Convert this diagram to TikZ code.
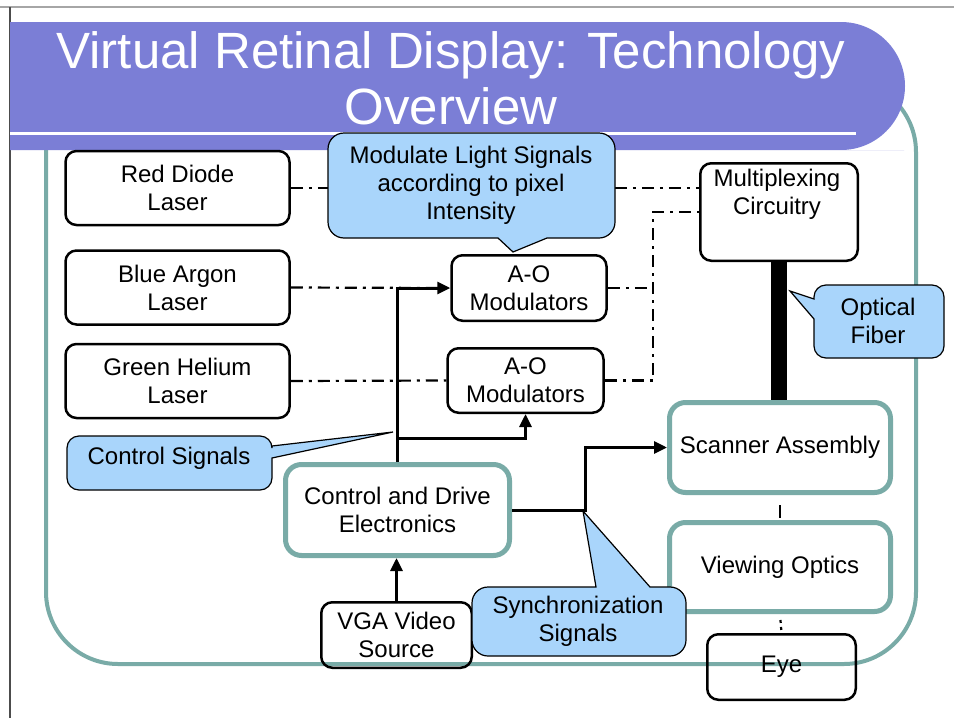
\documentclass[tikz,border=0pt]{standalone}
\usepackage{fontspec}
\setmainfont{Liberation Sans}
\usetikzlibrary{arrows.meta}
\definecolor{bannerblue}{HTML}{7B7ED6}
\definecolor{frameteal}{HTML}{79ABA7}
\definecolor{calloutblue}{HTML}{A9D5FB}

\begin{document}
\begin{tikzpicture}[x=1pt,y=-1pt,
  lbl/.style={font=\fontsize{24}{28}\selectfont, align=center, inner sep=0pt},
  blackbox/.style={lbl, draw=black, line width=2.5pt, rounded corners=11pt},
  tealbox/.style={lbl, draw=frameteal, line width=5pt, rounded corners=16pt, fill=white},
  beam/.style={line width=2.2pt, dash pattern=on 12pt off 6pt on 3pt off 6pt},
  signal/.style={line width=3pt, -{Triangle[length=13pt,width=12pt]}},
  callout/.style={draw=black, line width=1.2pt, fill=calloutblue},
]
\useasboundingbox (0,0) rectangle (954,718);
\fill[white] (0,0) rectangle (954,718);

% slide edges
\draw[gray!70, line width=2pt] (0,7) -- (954,7);
\draw[black!70, line width=1.2pt] (10,7) -- (10,718);

% teal frame and title banner
\draw[frameteal, line width=4pt, rounded corners=72pt] (46,80) rectangle (916,664);
\fill[bannerblue] (10,22) -- (840,22) [rounded corners=64pt] -- (905,22) -- (905,150)
  -- (840,150) [sharp corners] -- (10,150) -- cycle;
\draw[white, line width=3pt] (10,133) -- (856,133);
\node[font=\fontsize{51}{56}\selectfont, text=white, align=center, inner sep=0pt]
  (title) at (451,78) {Virtual Retinal Display: Technology\\Overview};

% sources and optical blocks
\node[blackbox, fill=white, minimum width=224pt, minimum height=74pt] (red) at (177.5,188) {Red Diode\\Laser};
\node[blackbox, fill=white, minimum width=224pt, minimum height=74pt] (blue) at (177.5,287.5) {Blue Argon\\Laser};
\node[blackbox, fill=white, minimum width=224pt, minimum height=74pt] (green) at (177.5,381) {Green Helium\\Laser};
\node[blackbox, fill=white, minimum width=155pt, minimum height=65.5pt] (aotop) at (529,288) {A-O\\Modulators};
\node[blackbox, fill=white, minimum width=156pt, minimum height=64.5pt] (aobot) at (525.5,380.5) {A-O\\Modulators};
\node[blackbox, fill=white, minimum width=157.5pt, minimum height=97.5pt] (mux) at (779,212) {};
\node[lbl] (muxlabel) at (777,194) {Multiplexing\\Circuitry};
\node[tealbox, minimum width=221pt, minimum height=90pt] (scan) at (780,447.5) {Scanner Assembly};
\node[tealbox, minimum width=221pt, minimum height=89pt] (view) at (780,567) {Viewing Optics};
\node[blackbox, minimum width=148.5pt, minimum height=65.5pt] (eye) at (781.5,667) {Eye};
\node[tealbox, minimum width=224pt, minimum height=91pt] (ctrl) at (397.5,510) {Control and Drive\\Electronics};
\node[blackbox, minimum width=150.5pt, minimum height=65.5pt] (vga) at (396.5,635) {VGA Video\\Source};

% light paths
\draw[beam] (red.east) -- (red.east -| mux.west);
\draw[beam] (blue.east) -- (aotop.west);
\draw[beam] (green.east) -- (aobot.west);
\coordinate (merge) at (653,212);
\draw[beam] (aobot.east) -| (merge) -- (merge -| mux.west);
\draw[beam] (aotop.east) -- (aotop.east -| merge);
\draw[line width=16pt] (mux.south) -- (mux.south |- scan.north);
\draw[line width=2.2pt, dash pattern=on 0pt off 10pt on 13pt off 30pt] (scan.south) -- (view.north);
\draw[line width=2.2pt, dash pattern=on 0pt off 6pt on 3pt off 4pt on 3pt off 30pt] (view.south) -- (eye.north);

% control signals
\coordinate (split) at (397.5,438);
\coordinate (syncturn) at (585,510);
\draw[signal] (ctrl.north) |- (aotop.west);
\draw[signal] (split) -| (aobot.south);
\draw[signal] (ctrl.east) -- (syncturn) |- (scan.west);
\draw[signal] (vga.north) -- (vga.north |- ctrl.south);

% callouts
\draw[callout] (498,238) -- (470,238) [rounded corners=16pt] -- (328,238) -- (328,133) -- (615,133)
  -- (615,238) -- (580,238) [sharp corners] -- (547,238) -- (513,252) -- cycle;
\node[lbl] (modtext) at (471,185) {Modulate Light Signals\\according to pixel\\Intensity};

\draw[callout] (814,319) -- (814,335) [rounded corners=12pt] -- (814,358) -- (944,358) -- (944,285)
  -- (814,285) [sharp corners] -- (814,299) -- (790,291) -- cycle;
\node[lbl] (fibertext) at (878,321) {Optical\\Fiber};

\draw[callout] (272,458) -- (272,470) [rounded corners=12pt] -- (272,490) -- (67,490) -- (67,436)
  -- (272,436) [sharp corners] -- (272,446) -- (393,432) -- cycle;
\node[lbl] (ctrltext) at (169,458) {Control Signals};

\draw[callout] (650,587) -- (665,587) [rounded corners=16pt] -- (686,587) -- (686,656) -- (472,656)
  -- (472,587) -- (560,587) [sharp corners] -- (596,587) -- (583,511) -- cycle;
\node[lbl] (synctext) at (578,621) {Synchronization\\Signals};
\end{tikzpicture}
\end{document}
